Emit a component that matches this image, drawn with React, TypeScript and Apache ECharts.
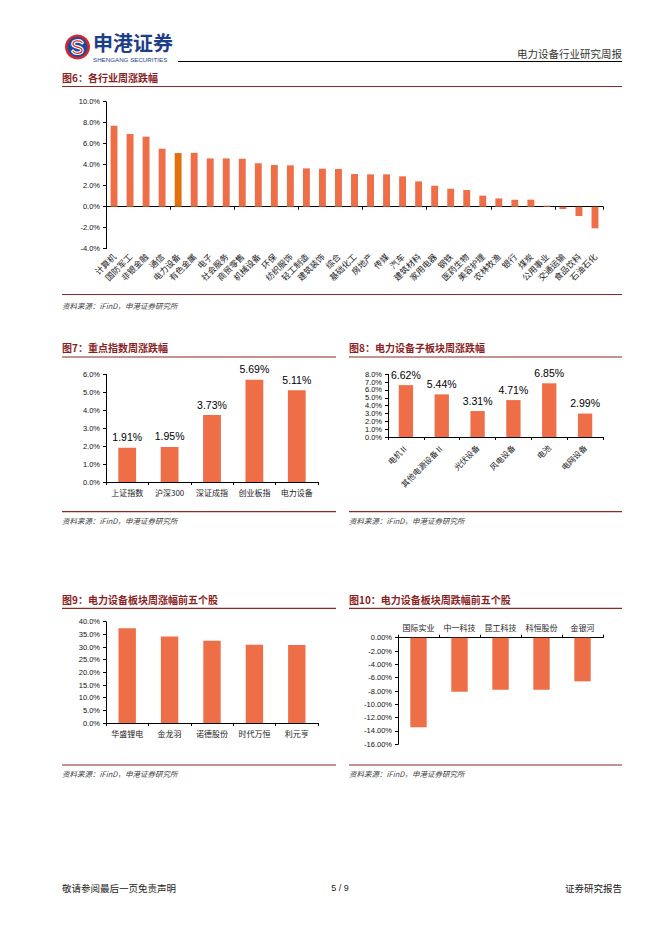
import React, { useEffect, useRef } from "react";
import * as echarts from "echarts";

// ---- Data ----
const fig6Categories = ["计算机", "国防军工", "非银金融", "通信", "电力设备", "有色金属", "电子", "社会服务", "商贸零售", "机械设备", "环保", "纺织服饰", "轻工制造", "建筑装饰", "综合", "基础化工", "房地产", "传媒", "汽车", "建筑材料", "家用电器", "钢铁", "医药生物", "美容护理", "农林牧渔", "银行", "煤炭", "公用事业", "交通运输", "食品饮料", "石油石化"];
const fig6Values = [7.71, 6.92, 6.67, 5.52, 5.11, 5.13, 4.6, 4.6, 4.57, 4.13, 3.97, 3.94, 3.65, 3.62, 3.59, 3.11, 3.08, 3.08, 2.89, 2.41, 2.0, 1.71, 1.59, 1.05, 0.79, 0.67, 0.67, 0.1, -0.22, -0.89, -2.06];
const fig6Highlight = "电力设备";

const fig7Categories = ["上证指数", "沪深300", "深证成指", "创业板指", "电力设备"];
const fig7Values = [1.91, 1.95, 3.73, 5.69, 5.11];

const fig8Categories = ["电机Ⅱ", "其他电源设备Ⅱ", "光伏设备", "风电设备", "电池", "电网设备"];
const fig8Values = [6.62, 5.44, 3.31, 4.71, 6.85, 2.99];

const fig9Categories = ["华盛锂电", "金龙羽", "诺德股份", "时代万恒", "利元亨"];
const fig9Values = [37.4, 34.2, 32.5, 30.9, 30.8];

const fig10Categories = ["国际实业", "中一科技", "昆工科技", "科恒股份", "金银河"];
const fig10Values = [-13.45, -8.1, -7.8, -7.8, -6.55];

const titles = ["图6：各行业周涨跌幅", "图7：重点指数周涨跌幅", "图8：电力设备子板块周涨跌幅", "图9：电力设备板块周涨幅前五个股", "图10：电力设备板块周跌幅前五个股"];
const sourceText = "资料来源：iFinD，申港证券研究所";

// ---- Styles ----
const BAR = "#EE6E48";
const BAR_HI = "#E2700F";
const MAROON = "#8B1E1E";
const LINE_RED = "#8E2B22";
const CJK = "'Noto Sans CJK SC', sans-serif";
const SANS = "'Liberation Sans', Arial, sans-serif";

const S_PATH = "M14.5 5.5 C12.5 3 5.5 3.2 5.5 7.2 C5.5 10.6 14.5 9.6 14.5 13 C14.5 17 7.5 17.2 5.5 14.5";
echarts.graphic.registerShape("logoS", echarts.graphic.extendPath(S_PATH, {}) as any);

const pct = (d: number) => (v: number) => v.toFixed(d) + "%";

function yAxis(gridIndex: number, min: number, max: number, interval: number, dec: number) {
  return {
    type: "value",
    gridIndex,
    min,
    max,
    interval,
    axisLine: { show: true, lineStyle: { color: "#000", width: 1 } },
    axisTick: { show: true, length: 3, lineStyle: { color: "#000" } },
    splitLine: { show: false },
    axisLabel: { formatter: pct(dec), fontSize: 7.5, color: "#111", fontFamily: SANS, margin: 6 },
  };
}

function catAxis(gridIndex: number, data: string[], extra: any = {}) {
  return {
    type: "category",
    gridIndex,
    data,
    position: "bottom",
    axisLine: { show: true, onZero: false, lineStyle: { color: "#000", width: 1 } },
    axisTick: { show: true, length: 3, lineStyle: { color: "#000" } },
    axisLabel: { interval: 0, fontSize: 8, color: "#222", fontFamily: CJK, margin: 6 },
    ...extra,
  };
}

const label = (show: boolean) => ({
  show,
  position: "top",
  distance: 5,
  formatter: (p: any) => p.value.toFixed(2) + "%",
  fontSize: 10.5,
  color: "#000",
  fontFamily: SANS,
});

function text(x: number, y: number, t: string, o: any = {}) {
  return {
    type: "text",
    x,
    y,
    silent: true,
    style: {
      text: t,
      fill: o.fill || "#222",
      fontSize: o.fontSize || 10,
      lineHeight: o.lineHeight,
      fontWeight: o.fontWeight || "normal",
      fontStyle: o.fontStyle || "normal",
      fontFamily: o.fontFamily || CJK,
      align: o.align || "left",
      verticalAlign: "middle",
    },
  };
}

function hline(x1: number, x2: number, y: number, stroke: string, w = 1) {
  return { type: "line", silent: true, shape: { x1, y1: y, x2, y2: y }, style: { stroke, lineWidth: w } };
}

export default function App() {
  const ref = useRef<HTMLDivElement>(null);

  useEffect(() => {
    document.body.style.margin = "0";
    const chart = echarts.init(ref.current!, null, { renderer: "svg" });

    const graphics: any[] = [
      // logo
      { type: "circle", shape: { cx: 77.5, cy: 47, r: 12.5 }, style: { fill: "#D9262B" } },
      { type: "circle", shape: { cx: 77.5, cy: 47, r: 10 }, style: { fill: "#1D4B9B" } },
      { type: "logoS", x: 67.5, y: 37, style: { fill: "none", stroke: "#fff", lineWidth: 3.6, lineCap: "round" } },
      { type: "logoS", x: 67.5, y: 37, style: { fill: "none", stroke: "#D9262B", lineWidth: 1.2, lineCap: "round" } },
      text(93, 42.5, "申港证券", { fill: "#1E3E8A", fontSize: 20, lineHeight: 20, fontWeight: "bold" }),
      text(93, 59, "SHENGANG SECURITIES", { fill: "#1E3E8A", fontSize: 6.2, lineHeight: 7, fontFamily: SANS }),
      hline(178, 622, 61.5, "#000", 1),
      text(622, 53, "电力设备行业研究周报", { fill: "#333", fontSize: 10.5, align: "right" }),
      // fig6
      text(62, 77, titles[0], { fill: MAROON, fontSize: 10, fontWeight: "bold" }),
      hline(62, 622, 86.5, LINE_RED, 1.2),
      hline(62, 622, 294.5, LINE_RED, 1.2),
      text(62, 305.5, sourceText, { fill: "#444", fontSize: 7.5, fontStyle: "italic" }),
      // fig7
      text(62, 347, titles[1], { fill: MAROON, fontSize: 10, fontWeight: "bold" }),
      hline(62, 336, 357, LINE_RED, 1.2),
      hline(62, 336, 511.7, LINE_RED, 1.2),
      text(62, 520.7, sourceText, { fill: "#444", fontSize: 7.5, fontStyle: "italic" }),
      // fig8
      text(349, 347, titles[2], { fill: MAROON, fontSize: 10, fontWeight: "bold" }),
      hline(349, 622, 357, LINE_RED, 1.2),
      hline(349, 622, 511.7, LINE_RED, 1.2),
      text(349, 520.7, sourceText, { fill: "#444", fontSize: 7.5, fontStyle: "italic" }),
      // fig9
      text(62, 599, titles[3], { fill: MAROON, fontSize: 10, fontWeight: "bold" }),
      hline(62, 336, 608.3, LINE_RED, 1.2),
      hline(62, 336, 765, LINE_RED, 1.2),
      text(62, 773.3, sourceText, { fill: "#444", fontSize: 7.5, fontStyle: "italic" }),
      // fig10
      text(349, 599, titles[4], { fill: MAROON, fontSize: 10, fontWeight: "bold" }),
      hline(349, 622, 608.3, LINE_RED, 1.2),
      hline(349, 622, 765, LINE_RED, 1.2),
      text(349, 773.3, sourceText, { fill: "#444", fontSize: 7.5, fontStyle: "italic" }),
      // footer
      text(62, 888, "敬请参阅最后一页免责声明", { fill: "#222", fontSize: 9.5 }),
      text(340, 888, "5 / 9", { fill: "#222", fontSize: 9, fontFamily: SANS, align: "center" }),
      text(622, 888, "证券研究报告", { fill: "#222", fontSize: 9.5, align: "right" }),
    ];

    chart.setOption({
      animation: false,
      backgroundColor: "#fff",
      grid: [
        { left: 106, top: 101.7, width: 497, height: 147 },
        { left: 106, top: 374.3, width: 212, height: 107.7 },
        { left: 388, top: 374.3, width: 215, height: 62.7 },
        { left: 106, top: 621.7, width: 212, height: 101.3 },
        { left: 398, top: 637.7, width: 205, height: 106.6 },
      ],
      xAxis: [
        catAxis(0, fig6Categories, {
          axisLine: { show: true, onZero: true, lineStyle: { color: "#000", width: 1 } },
          axisLabel: { show: false },
        }),
        catAxis(0, fig6Categories, {
          position: "bottom",
          offset: 0,
          axisLine: { show: false, onZero: false },
          axisTick: { show: false },
          axisLabel: { interval: 0, rotate: 45, fontSize: 8.5, color: "#222", fontFamily: CJK, margin: 6 },
        }),
        catAxis(1, fig7Categories),
        catAxis(2, fig8Categories, {
          axisLabel: { interval: 0, rotate: 45, fontSize: 8, color: "#222", fontFamily: CJK, margin: 9 },
        }),
        catAxis(3, fig9Categories),
        catAxis(4, fig10Categories, { position: "top" }),
      ],
      yAxis: [
        yAxis(0, -4, 10, 2, 1),
        yAxis(1, 0, 6, 1, 1),
        yAxis(2, 0, 8, 1, 1),
        yAxis(3, 0, 40, 5, 1),
        yAxis(4, -16, 0, 2, 2),
      ],
      series: [
        {
          type: "bar",
          xAxisIndex: 0,
          yAxisIndex: 0,
          barWidth: "43%",
          data: fig6Values.map((v, i) => ({
            value: v,
            itemStyle: { color: fig6Categories[i] === fig6Highlight ? BAR_HI : BAR },
          })),
        },
        { type: "bar", xAxisIndex: 2, yAxisIndex: 1, barWidth: "42%", itemStyle: { color: BAR }, label: label(true), data: fig7Values },
        { type: "bar", xAxisIndex: 3, yAxisIndex: 2, barWidth: "40%", itemStyle: { color: BAR }, label: label(true), data: fig8Values },
        { type: "bar", xAxisIndex: 4, yAxisIndex: 3, barWidth: "41%", itemStyle: { color: BAR }, data: fig9Values },
        { type: "bar", xAxisIndex: 5, yAxisIndex: 4, barWidth: "40%", itemStyle: { color: BAR }, data: fig10Values },
      ],
      graphic: graphics,
    });

    return () => chart.dispose();
  }, []);

  return <div ref={ref} style={{ width: 662, height: 936 }} />;
}
